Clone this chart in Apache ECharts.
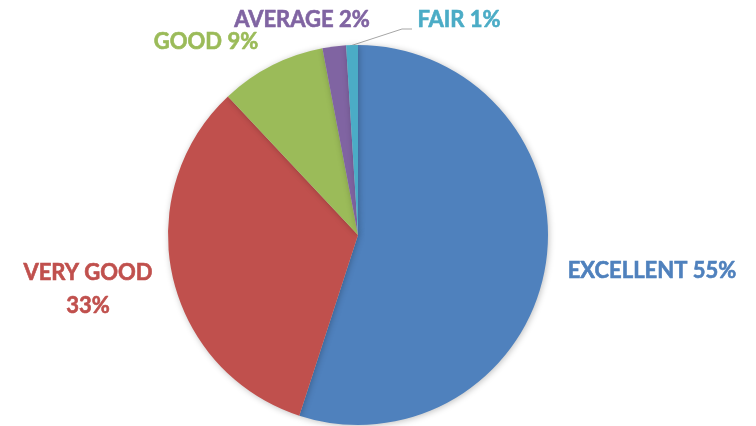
<!DOCTYPE html>
<html>
<head>
<meta charset="utf-8">
<style>
  html, body { margin: 0; padding: 0; background: #fff; }
  #chart { width: 756px; height: 426px; }
</style>
<script src="https://cdn.jsdelivr.net/npm/echarts@6/dist/echarts.min.js"></script>
</head>
<body>
<div id="chart"></div>
<script>
// data
var categories = ['EXCELLENT', 'VERY GOOD', 'GOOD', 'AVERAGE', 'FAIR'];
var shares = [55, 33, 9, 2, 1];
var colors = ['#4F81BD', '#C0504D', '#9BBB59', '#8064A2', '#4BACC6'];

// where each label sits (centre of the text block)
var labelSpots = [
    { x: 652, y: 271 },
    { x: 88, y: 289 },
    { x: 206, y: 42 },
    { x: 302, y: 20 },
    { x: 459, y: 20 }
];

var chart = echarts.init(document.getElementById('chart'));

chart.setOption({
    animation: false,
    series: [{
        type: 'pie',
        center: [358, 235],
        radius: 190,
        startAngle: 90,
        clockwise: true,
        data: categories.map(function (name, i) {
            return {
                name: name,
                value: shares[i],
                itemStyle: { color: colors[i] },
                label: { color: colors[i], textBorderColor: colors[i] },
                labelLine: { show: i === 4 }
            };
        }),
        itemStyle: {
            borderWidth: 0,
            shadowBlur: 6,
            shadowColor: 'rgba(0,0,0,0.25)',
            shadowOffsetX: 1,
            shadowOffsetY: 1
        },
        label: {
            show: true,
            position: 'outside',
            fontFamily: 'Lato',
            fontWeight: 'bold',
            fontSize: 22,
            lineHeight: 33,
            textBorderWidth: 0.6,
            overflow: 'none',
            align: 'center',
            formatter: function (p) {
                if (p.dataIndex === 1) return p.name + '\n' + p.value + '%';
                return p.name + ' ' + p.value + '%';
            }
        },
        labelLine: {
            lineStyle: { color: '#A6A6A6', width: 1 }
        },
        labelLayout: function (params) {
            var s = labelSpots[params.dataIndex];
            var out = {
                x: s.x,
                y: s.y,
                align: 'center',
                verticalAlign: 'middle'
            };
            if (params.dataIndex === 4) {
                out.labelLinePoints = [[350, 46], [402, 29], [412, 29]];
            }
            return out;
        }
    }]
});
</script>
</body>
</html>
